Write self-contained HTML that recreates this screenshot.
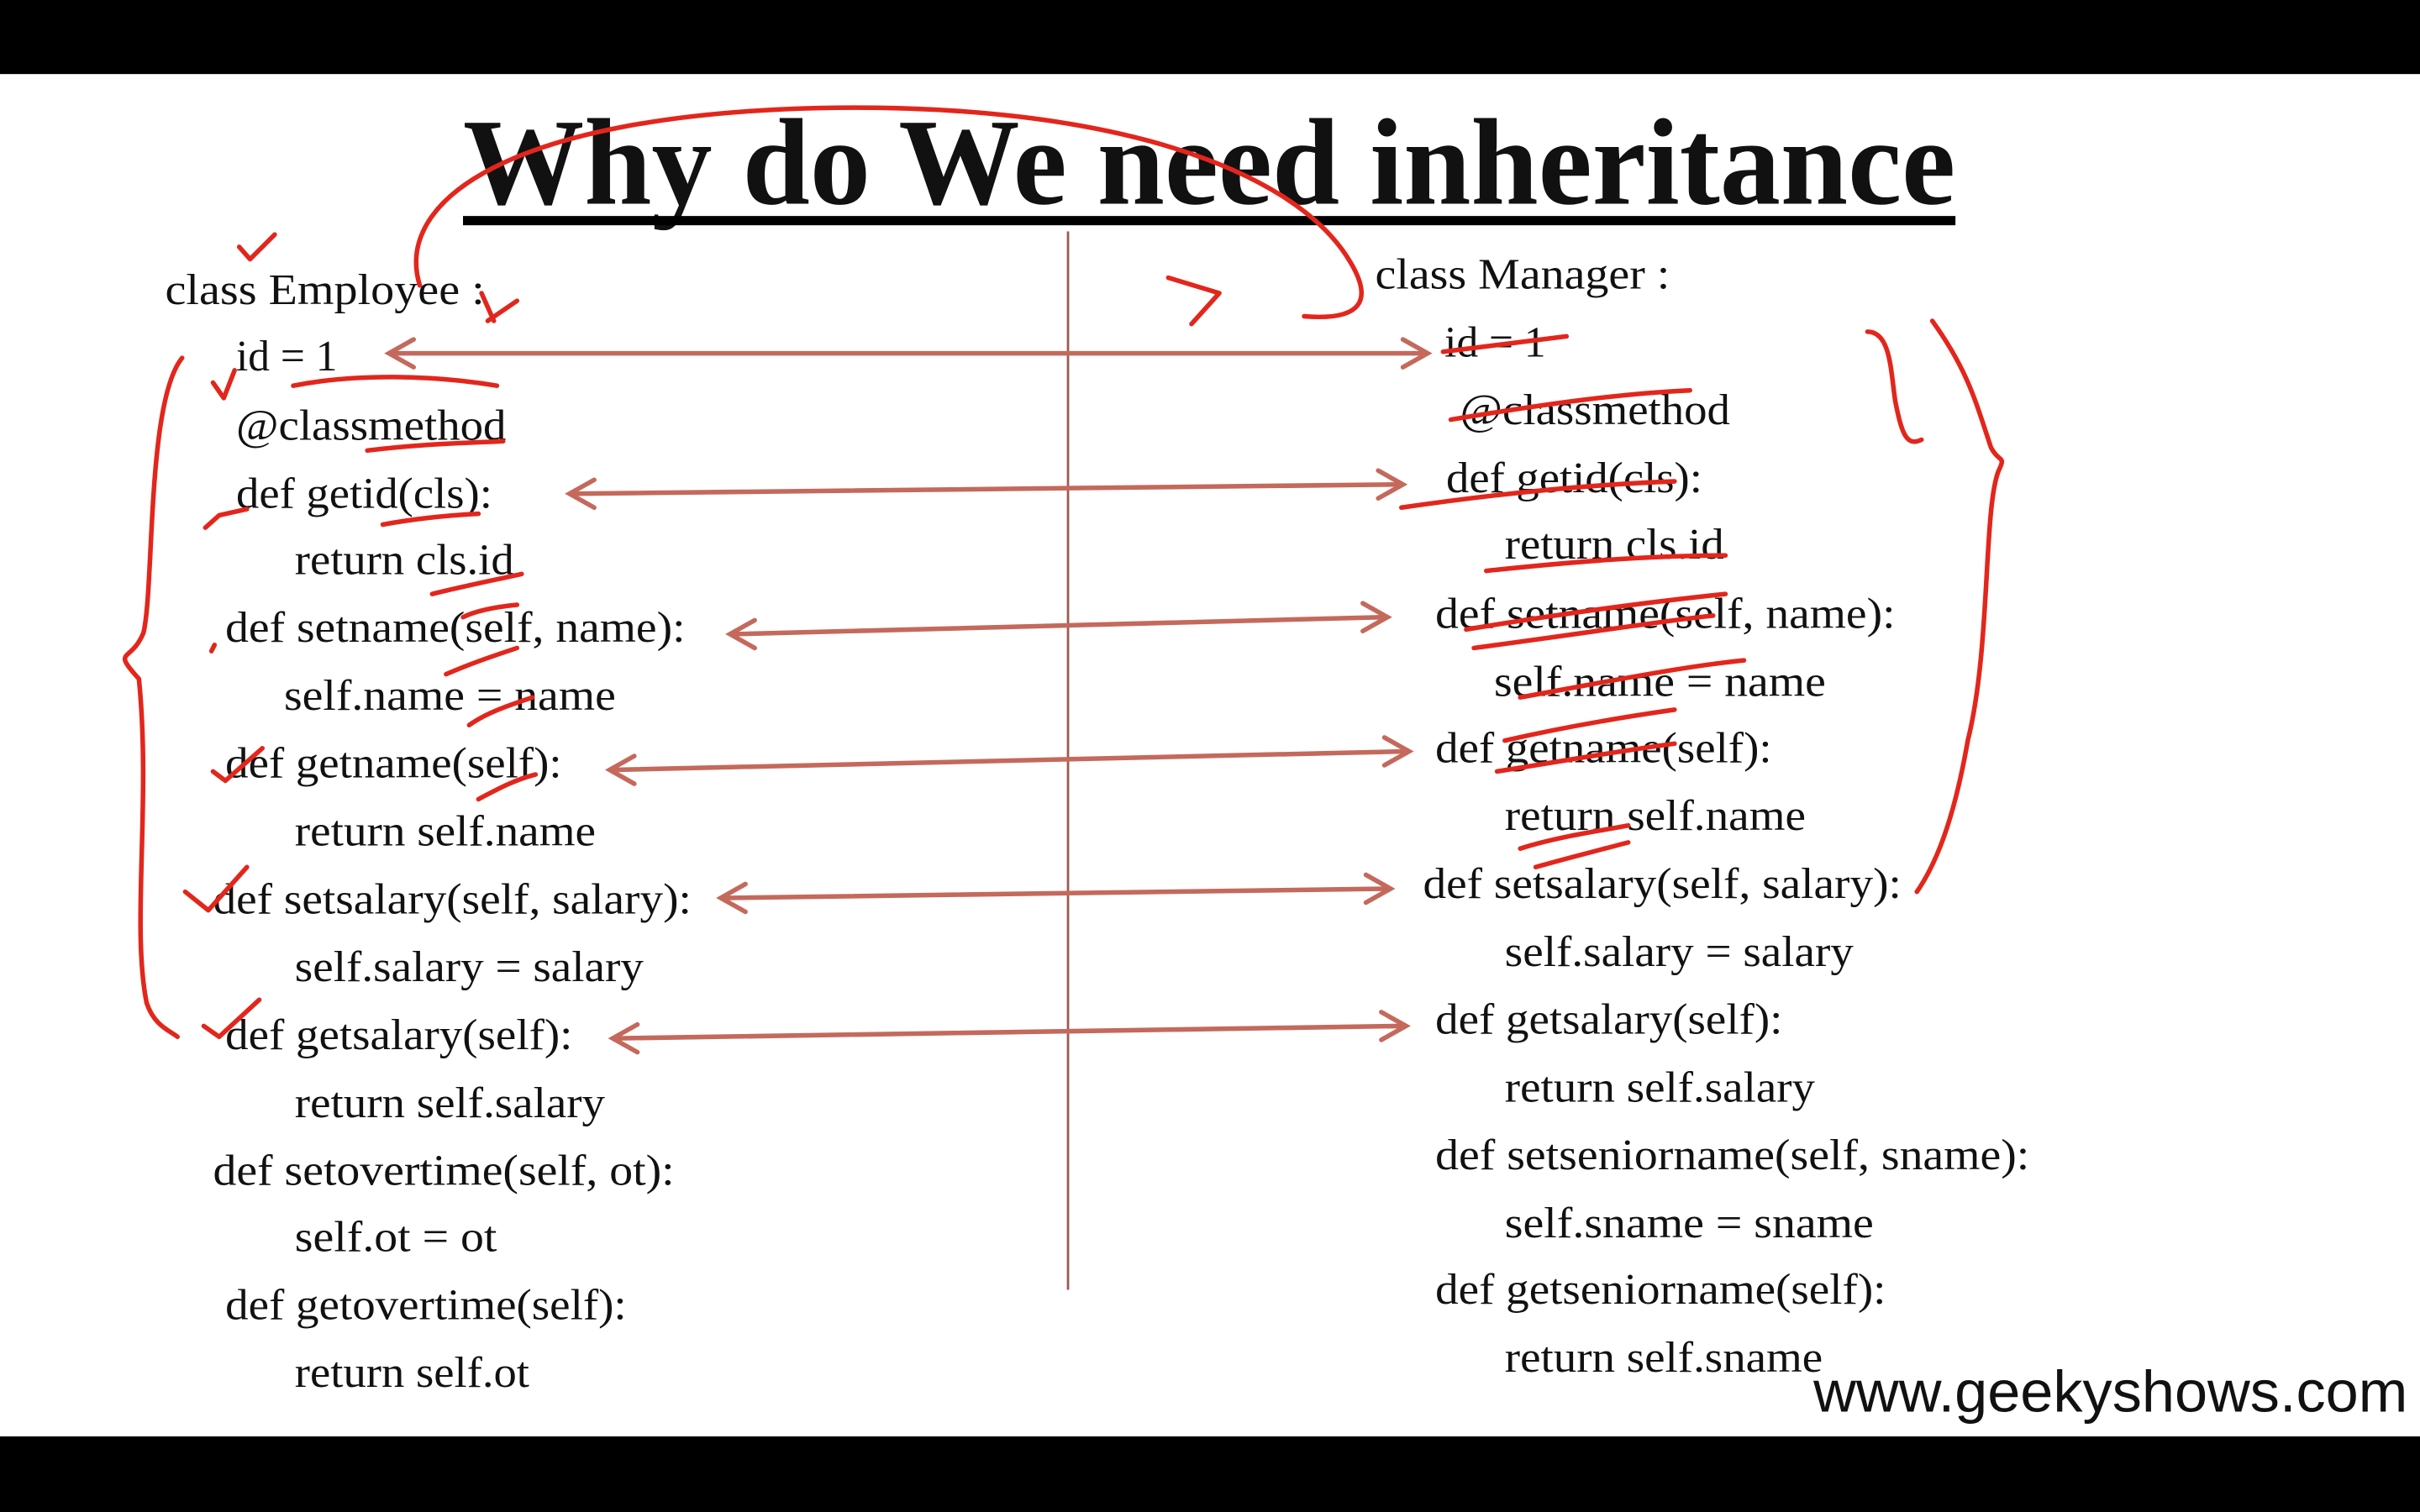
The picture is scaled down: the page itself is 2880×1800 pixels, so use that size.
<!DOCTYPE html>
<html><head><meta charset="utf-8"><style>
html,body{margin:0;padding:0;background:#fff;}
svg{display:block;}
text{font-family:"Liberation Serif",serif;fill:#111;}
.c{font-size:28px;}
</style></head><body>
<svg width="2880" height="1800" viewBox="0 0 1568 980" xmlns="http://www.w3.org/2000/svg">
<rect x="0" y="0" width="1568" height="980" fill="#fff"/>
<rect x="0" y="0" width="1568" height="48" fill="#000"/>
<rect x="0" y="931" width="1568" height="49" fill="#000"/>
<text x="300" y="132" font-size="80" font-weight="bold" textLength="967" lengthAdjust="spacingAndGlyphs">Why do We need inheritance</text>
<rect x="300" y="140" width="967" height="6" fill="#000"/>
<line x1="692" y1="150" x2="692" y2="836" stroke="#9a5a50" stroke-width="1.5"/>
<g class="c">
<text x="107" y="197" textLength="207" lengthAdjust="spacingAndGlyphs">class Employee :</text>
<text x="153" y="240">id = 1</text>
<text x="153" y="285" textLength="175" lengthAdjust="spacingAndGlyphs">@classmethod</text>
<text x="153" y="329" textLength="166" lengthAdjust="spacingAndGlyphs">def getid(cls):</text>
<text x="191" y="372" textLength="142" lengthAdjust="spacingAndGlyphs">return cls.id</text>
<text x="146" y="416" textLength="298" lengthAdjust="spacingAndGlyphs">def setname(self,  name):</text>
<text x="184" y="460" textLength="215" lengthAdjust="spacingAndGlyphs">self.name  = name</text>
<text x="146" y="504" textLength="218" lengthAdjust="spacingAndGlyphs">def getname(self):</text>
<text x="191" y="548" textLength="195" lengthAdjust="spacingAndGlyphs">return self.name</text>
<text x="138" y="592" textLength="310" lengthAdjust="spacingAndGlyphs">def setsalary(self,  salary):</text>
<text x="191" y="636" textLength="226" lengthAdjust="spacingAndGlyphs">self.salary  = salary</text>
<text x="146" y="680" textLength="225" lengthAdjust="spacingAndGlyphs">def getsalary(self):</text>
<text x="191" y="724" textLength="201" lengthAdjust="spacingAndGlyphs">return self.salary</text>
<text x="138" y="768" textLength="299" lengthAdjust="spacingAndGlyphs">def setovertime(self,  ot):</text>
<text x="191" y="811" textLength="131" lengthAdjust="spacingAndGlyphs">self.ot = ot</text>
<text x="146" y="855" textLength="260" lengthAdjust="spacingAndGlyphs">def getovertime(self):</text>
<text x="191" y="899" textLength="152" lengthAdjust="spacingAndGlyphs">return self.ot</text>

<text x="891" y="187" textLength="191" lengthAdjust="spacingAndGlyphs">class Manager :</text>
<text x="936" y="231">id = 1</text>
<text x="946" y="275" textLength="175" lengthAdjust="spacingAndGlyphs">@classmethod</text>
<text x="937" y="319" textLength="166" lengthAdjust="spacingAndGlyphs">def getid(cls):</text>
<text x="975" y="362" textLength="142" lengthAdjust="spacingAndGlyphs">return cls.id</text>
<text x="930" y="407" textLength="298" lengthAdjust="spacingAndGlyphs">def setname(self,  name):</text>
<text x="968" y="451" textLength="215" lengthAdjust="spacingAndGlyphs">self.name  = name</text>
<text x="930" y="494" textLength="218" lengthAdjust="spacingAndGlyphs">def getname(self):</text>
<text x="975" y="538" textLength="195" lengthAdjust="spacingAndGlyphs">return self.name</text>
<text x="922" y="582" textLength="310" lengthAdjust="spacingAndGlyphs">def setsalary(self,  salary):</text>
<text x="975" y="626" textLength="226" lengthAdjust="spacingAndGlyphs">self.salary  = salary</text>
<text x="930" y="670" textLength="225" lengthAdjust="spacingAndGlyphs">def getsalary(self):</text>
<text x="975" y="714" textLength="201" lengthAdjust="spacingAndGlyphs">return self.salary</text>
<text x="930" y="758" textLength="385" lengthAdjust="spacingAndGlyphs">def setseniorname(self,  sname):</text>
<text x="975" y="802" textLength="239" lengthAdjust="spacingAndGlyphs">self.sname  = sname</text>
<text x="930" y="845" textLength="292" lengthAdjust="spacingAndGlyphs">def getseniorname(self):</text>
<text x="975" y="889" textLength="206" lengthAdjust="spacingAndGlyphs">return self.sname</text>
</g>
<text x="1175" y="915" font-family="Liberation Sans,sans-serif" font-size="38" textLength="385" lengthAdjust="spacingAndGlyphs" style="font-family:'Liberation Sans',sans-serif">www.geekyshows.com</text>

<!-- connector arrows -->
<g stroke="#c4695c" stroke-width="3" fill="none" stroke-linecap="round">
<line x1="255" y1="229" x2="922" y2="229"/>
<polyline points="268,220 252,229 268,238"/><polyline points="909,220 925,229 909,238"/>
<line x1="372" y1="320" x2="906" y2="314"/>
<polyline points="385,311 369,320 385,329"/><polyline points="893,305 909,314 893,323"/>
<line x1="476" y1="411" x2="896" y2="400"/>
<polyline points="489,402 473,411 489,420"/><polyline points="883,391 899,400 883,409"/>
<line x1="398" y1="499" x2="910" y2="487"/>
<polyline points="411,490 395,499 411,508"/><polyline points="897,478 913,487 897,496"/>
<line x1="470" y1="582" x2="898" y2="576"/>
<polyline points="483,573 467,582 483,591"/><polyline points="885,567 901,576 885,585"/>
<line x1="400" y1="673" x2="908" y2="665"/>
<polyline points="413,664 397,673 413,682"/><polyline points="895,656 911,665 895,674"/>
</g>

<!-- red hand annotations -->
<g stroke="#e3261c" stroke-width="3" fill="none" stroke-linecap="round" stroke-linejoin="round">
<path d="M272,185 C255,130 330,75 530,70 C720,66 840,110 875,170 C890,195 882,208 845,205"/>
<path d="M757,180 L790,190 L772,210"/>
<path d="M316,208 L335,195 M320,208 L312,190"/>
<path d="M155,160 L162,168 L178,152"/>
<path d="M118,232 C95,260 100,380 93,410 C85,430 72,420 90,440 C98,520 85,600 95,650 C100,665 110,668 115,672"/>
<path d="M138,248 L145,258 L152,240"/>
<path d="M190,250 C230,242 280,243 322,250"/>
<path d="M238,292 C270,288 300,287 326,286"/>
<path d="M133,342 L142,334 L160,330"/>
<path d="M248,340 C270,336 290,334 310,333"/>
<path d="M280,385 C300,380 320,376 338,372"/>
<path d="M300,400 C310,395 325,393 335,392"/>
<path d="M289,437 C305,430 320,425 335,420"/>
<path d="M304,470 C315,462 330,457 345,452"/>
<path d="M138,500 L146,506 L170,485"/>
<path d="M310,518 C325,510 335,505 347,502"/>
<path d="M120,578 L135,590 L160,562"/>
<path d="M132,665 L142,672 L168,648"/>
<path d="M137,422 L139,418"/>
<!-- right side -->
<path d="M935,228 L1015,218"/>
<path d="M940,272 C1000,262 1050,255 1095,253"/>
<path d="M908,329 C970,320 1030,314 1085,312"/>
<path d="M963,370 C1020,364 1070,360 1118,360"/>
<path d="M950,408 C1010,398 1070,390 1118,385"/>
<path d="M955,420 C1030,410 1080,402 1110,399"/>
<path d="M985,452 C1040,442 1090,432 1130,428"/>
<path d="M975,480 C1010,472 1050,465 1085,460"/>
<path d="M970,500 C1020,492 1060,485 1085,482"/>
<path d="M985,550 C1010,542 1040,538 1055,535"/>
<path d="M995,562 C1020,555 1040,550 1055,546"/>
<path d="M1210,215 C1225,215 1225,240 1228,260 C1232,280 1235,290 1245,285"/>
<path d="M1252,208 C1275,240 1280,260 1290,290 C1295,300 1300,295 1295,305 C1285,330 1290,420 1275,480 C1268,520 1258,555 1242,578"/>
</g>
</svg>
</body></html>
